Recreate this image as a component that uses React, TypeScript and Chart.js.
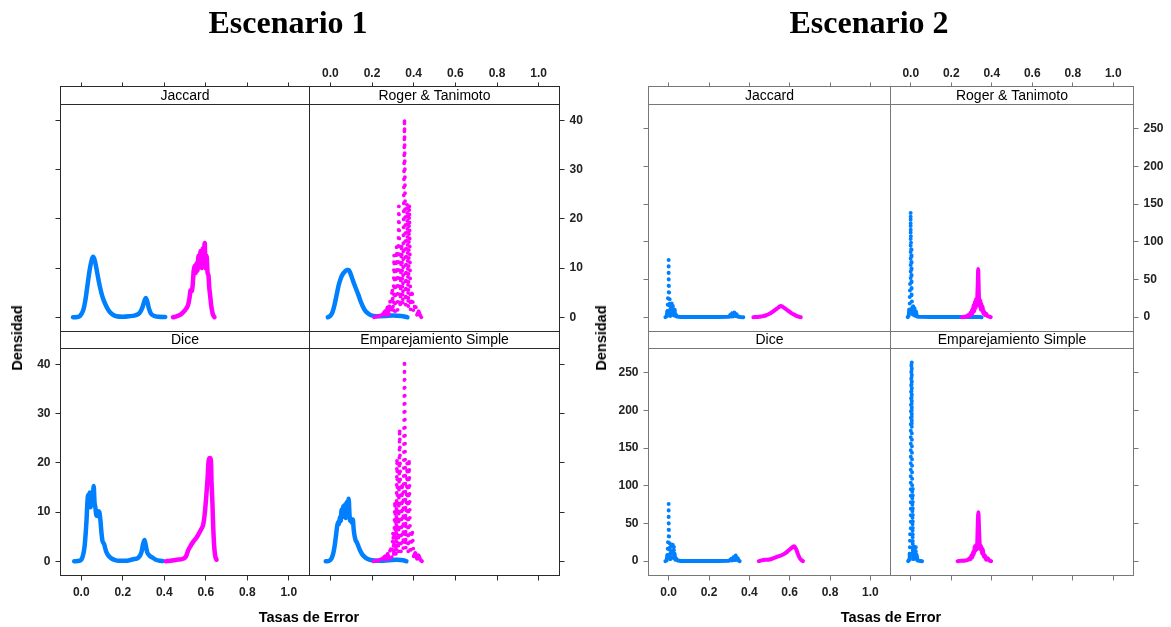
import { useEffect, useRef } from 'react';
import { Chart, registerables } from 'chart.js';

Chart.register(...registerables);

type Pt = [number, number];

// ---------- text & ticks ----------
const FIG_TITLES = ['Escenario 1', 'Escenario 2'];
const PANEL_NAMES = ['Jaccard', 'Roger & Tanimoto', 'Dice', 'Emparejamiento Simple'];
const X_LABEL = 'Tasas de Error';
const Y_LABEL = 'Densidad';
const X_TICKS = [0, 0.2, 0.4, 0.6, 0.8, 1.0];
const E1_Y_TICKS = [0, 10, 20, 30, 40];
const E2_Y_TICKS = [0, 50, 100, 150, 200, 250];

// ---------- Escenario 1 densities ----------
const e1JaccardBlue: Pt[] = [[-0.04,0],[-0.02,0.05],[-0.005,0.3],[0.01,1.5],[0.02,3.5],[0.03,6.5],[0.04,9.5],[0.05,11.6],[0.057,12.3],[0.065,11.6],[0.075,9.5],[0.085,7.2],[0.095,5.3],[0.105,3.8],[0.12,2.3],[0.135,1.2],[0.15,0.6],[0.17,0.2],[0.2,0.1],[0.23,0.2],[0.26,0.4],[0.28,0.8],[0.295,2],[0.305,3.4],[0.311,3.9],[0.318,3.2],[0.326,1.8],[0.335,0.8],[0.35,0.3],[0.375,0.1],[0.405,0.05]];
const e1JaccardMagenta: Pt[] = [[0.442,0],[0.46,0.2],[0.48,0.6],[0.495,1.2],[0.505,1.7],[0.515,2.5],[0.522,4],[0.527,5.5],[0.532,5.3],[0.537,6.5],[0.542,9.5],[0.547,10.5],[0.551,9],[0.556,11],[0.56,9.5],[0.565,12.5],[0.57,10.5],[0.575,13.5],[0.58,10],[0.585,14],[0.589,12],[0.595,15.1],[0.599,10],[0.604,12.5],[0.609,9],[0.613,8.5],[0.617,6],[0.621,4.5],[0.626,2.5],[0.633,0.8],[0.642,0]];
const e1RogerBlue: Pt[] = [[-0.012,0],[0.0,0.3],[0.01,1],[0.02,2.5],[0.03,4.5],[0.04,6.5],[0.05,7.9],[0.06,8.8],[0.07,9.3],[0.08,9.6],[0.088,9.6],[0.095,9.1],[0.105,7.9],[0.115,6.7],[0.125,5.6],[0.135,4.5],[0.145,3.3],[0.155,2.3],[0.165,1.5],[0.18,0.8],[0.195,0.4],[0.22,0.2],[0.26,0.25],[0.3,0.35],[0.34,0.25],[0.37,0]];
const e1RogerMagenta: Pt[] = [[0.21,0],[0.23,0.2],[0.25,0.5],[0.262,1.2],[0.268,0.5],[0.274,2],[0.28,0.6],[0.286,3.5],[0.291,0.8],[0.297,6],[0.302,1],[0.306,12.7],[0.311,1.2],[0.318,14.4],[0.323,1.5],[0.329,22.6],[0.335,2],[0.342,15],[0.348,2.5],[0.356,40.5],[0.362,2.5],[0.368,23.3],[0.374,2],[0.379,23],[0.385,1.5],[0.392,5.6],[0.399,1],[0.408,2.9],[0.416,0.5],[0.424,1.2],[0.432,0.3],[0.437,0]];
const e1DiceBlue: Pt[] = [[-0.034,0],[-0.01,0.1],[0.0,0.3],[0.01,1.5],[0.016,3],[0.021,5.5],[0.025,8],[0.029,11.5],[0.033,13.5],[0.037,12],[0.041,14],[0.045,11],[0.05,13.5],[0.054,12],[0.06,15.3],[0.064,12],[0.068,11],[0.072,9.5],[0.077,9.2],[0.082,10.2],[0.087,10],[0.092,8.5],[0.097,6],[0.102,4.2],[0.11,3.5],[0.12,2],[0.13,1.2],[0.145,0.6],[0.16,0.3],[0.18,0.1],[0.22,0.1],[0.25,0.4],[0.275,0.7],[0.29,1.8],[0.298,3.5],[0.305,4.3],[0.311,3.2],[0.318,1.8],[0.33,1.1],[0.345,0.7],[0.36,0.3],[0.38,0.1],[0.393,0.05]];
const e1DiceMagenta: Pt[] = [[0.408,0],[0.43,0.1],[0.46,0.3],[0.49,0.5],[0.505,1],[0.515,2.2],[0.525,3],[0.54,4],[0.555,4.8],[0.565,5.5],[0.578,6.5],[0.588,7.5],[0.596,10],[0.603,13.5],[0.609,17],[0.614,20.5],[0.62,21],[0.625,20.5],[0.628,16],[0.632,12],[0.636,7],[0.64,3.5],[0.645,1.2],[0.652,0.3]];
const e1SimpleBlue: Pt[] = [[-0.022,0],[-0.005,0.1],[0.005,0.5],[0.015,1.8],[0.022,3.5],[0.028,5.5],[0.033,7.2],[0.038,8],[0.042,7.6],[0.046,9],[0.05,8.2],[0.054,10.5],[0.058,9],[0.062,11.2],[0.066,9.5],[0.07,11.5],[0.074,8.8],[0.078,12],[0.082,10],[0.088,12.7],[0.092,9.5],[0.096,8.2],[0.1,8.6],[0.104,7.8],[0.108,8.5],[0.112,6.5],[0.117,5],[0.122,4.2],[0.128,3.8],[0.135,3],[0.143,2.2],[0.152,1.5],[0.162,1],[0.177,0.5],[0.2,0.2],[0.24,0.1],[0.28,0.2],[0.32,0.3],[0.35,0.2],[0.365,0]];
const e1SimpleMagenta: Pt[] = [[0.207,0],[0.23,0.2],[0.25,0.5],[0.262,1],[0.268,0.4],[0.275,1.5],[0.281,0.5],[0.289,3.1],[0.295,0.8],[0.301,6],[0.305,1],[0.31,12.3],[0.315,1.2],[0.32,21],[0.326,1.8],[0.333,27],[0.339,2],[0.345,16],[0.35,2.5],[0.356,41],[0.362,2.5],[0.369,20],[0.374,2],[0.378,20.9],[0.384,1.5],[0.393,6.5],[0.4,1],[0.408,1.7],[0.416,0.5],[0.424,1.2],[0.432,0.3],[0.44,0]];

// ---------- Escenario 2 densities ----------
const e2JaccardBlue: Pt[] = [[-0.016,0],[-0.01,1],[-0.006,8],[-0.003,30],[-0.001,55],[0.0,76],[0.001,55],[0.003,25],[0.005,8],[0.008,2],[0.01,15],[0.012,3],[0.015,19],[0.018,4],[0.021,17],[0.024,3],[0.027,10],[0.03,2],[0.034,4],[0.04,0.8],[0.06,0.3],[0.15,0.3],[0.25,0.3],[0.3,0.5],[0.306,3],[0.31,1],[0.315,5],[0.32,1],[0.326,6],[0.331,1.5],[0.336,4],[0.342,0.8],[0.355,0.3],[0.37,0]];
const e2JaccardMagenta: Pt[] = [[0.42,0],[0.44,0.3],[0.46,1],[0.48,2.2],[0.5,4.5],[0.515,7],[0.53,10],[0.545,13],[0.556,14.8],[0.565,13.8],[0.58,11],[0.595,8],[0.61,5],[0.625,3],[0.64,1],[0.655,0]];
const e2RogerBlue: Pt[] = [[-0.015,0],[-0.01,2],[-0.007,10],[-0.005,25],[-0.003,50],[-0.002,80],[-0.001,110],[0.0,140],[0.001,120],[0.002,90],[0.003,60],[0.005,30],[0.007,12],[0.009,4],[0.012,14],[0.015,3],[0.018,12],[0.021,2],[0.025,8],[0.03,1],[0.04,0.5],[0.1,0.3],[0.2,0.3],[0.3,0.3],[0.34,0.3],[0.35,0]];
const e2RogerMagenta: Pt[] = [[0.253,0],[0.268,0.5],[0.278,1.5],[0.285,3],[0.29,1.5],[0.295,6],[0.299,3],[0.303,10],[0.306,5],[0.31,16],[0.313,8],[0.317,20],[0.32,12],[0.323,24],[0.326,15],[0.329,30],[0.331,45],[0.333,64],[0.335,45],[0.337,25],[0.34,15],[0.343,22],[0.346,10],[0.349,18],[0.352,8],[0.355,14],[0.358,5],[0.362,8],[0.366,3],[0.372,5],[0.378,1.5],[0.385,1],[0.395,0]];
const e2DiceBlue: Pt[] = [[-0.016,0],[-0.01,1],[-0.006,8],[-0.003,30],[-0.001,55],[0.0,76],[0.001,55],[0.003,25],[0.005,8],[0.008,3],[0.011,20],[0.014,4],[0.017,22],[0.02,5],[0.023,21],[0.026,4],[0.029,10],[0.033,2],[0.038,3],[0.045,0.8],[0.06,0.3],[0.15,0.3],[0.25,0.3],[0.3,0.6],[0.31,3],[0.315,1],[0.322,5],[0.327,1.5],[0.332,7.5],[0.337,2],[0.342,4],[0.348,0.5],[0.352,0]];
const e2DiceMagenta: Pt[] = [[0.447,0],[0.46,1],[0.48,1.8],[0.5,2.2],[0.52,4],[0.54,6],[0.56,7.8],[0.575,10],[0.59,13],[0.605,16.5],[0.622,19.8],[0.632,16],[0.64,10],[0.648,5],[0.656,2],[0.666,0]];
const e2SimpleBlue: Pt[] = [[-0.013,0],[-0.008,2],[-0.005,10],[-0.003,40],[-0.001,100],[0.001,180],[0.003,264],[0.005,180],[0.007,100],[0.009,40],[0.011,12],[0.013,3],[0.016,22],[0.019,4],[0.022,20],[0.025,3],[0.029,8],[0.033,1],[0.04,0.5],[0.05,0.3],[0.056,0]];
const e2SimpleMagenta: Pt[] = [[0.231,0],[0.25,0.5],[0.27,1],[0.284,2],[0.29,4],[0.295,2.5],[0.3,8],[0.304,5],[0.308,12],[0.312,9],[0.316,20],[0.32,14],[0.324,22],[0.327,16],[0.329,30],[0.331,50],[0.334,65],[0.337,45],[0.34,25],[0.344,16],[0.348,20],[0.352,10],[0.356,16],[0.36,6],[0.366,8],[0.372,2],[0.38,4],[0.387,1],[0.397,0]];

// ---------- layout / style ----------
const W = 1171;
const H = 627;
const BLUE = '#0080ff';
const MAGENTA = '#ff00ff';
const AXW = 45;
const AXH_TOP = 40;
const AXH_BOT = 30;
const TICK_FONT = { family: '"Liberation Sans", Arial, sans-serif', size: 12, weight: 'bold' as const };

const FIGS = [
  { L: 60.5, M: 309.5, R: 559.5, yMin: -2.9, yMax: 43.3, yTicks: E1_Y_TICKS, line: '#2a2a2a', gap: 8, width: 4.5, dotWidth: 3.8, cx: 288, xlabX: 309, ylabX: 17 },
  { L: 648.5, M: 890.5, R: 1133.5, yMin: -19, yMax: 282, yTicks: E2_Y_TICKS, line: '#777', gap: 6.5, width: 4, dotWidth: 4, cx: 869, xlabX: 891, ylabX: 601 },
];
const ROWS = [
  { stripTop: 86.5, top: 104.5, bottom: 331.5 },
  { stripTop: 331.5, top: 348.5, bottom: 575.5 },
];

type Panel = { fig: number; row: number; col: number; name: string; blue: Pt[]; magenta: Pt[]; spikyBlue: boolean; spikyMag: boolean };

const PANELS: Panel[] = [
  { fig: 0, row: 0, col: 0, name: PANEL_NAMES[0], blue: e1JaccardBlue, magenta: e1JaccardMagenta, spikyBlue: false, spikyMag: false },
  { fig: 0, row: 0, col: 1, name: PANEL_NAMES[1], blue: e1RogerBlue, magenta: e1RogerMagenta, spikyBlue: false, spikyMag: true },
  { fig: 0, row: 1, col: 0, name: PANEL_NAMES[2], blue: e1DiceBlue, magenta: e1DiceMagenta, spikyBlue: false, spikyMag: false },
  { fig: 0, row: 1, col: 1, name: PANEL_NAMES[3], blue: e1SimpleBlue, magenta: e1SimpleMagenta, spikyBlue: false, spikyMag: true },
  { fig: 1, row: 0, col: 0, name: PANEL_NAMES[0], blue: e2JaccardBlue, magenta: e2JaccardMagenta, spikyBlue: true, spikyMag: false },
  { fig: 1, row: 0, col: 1, name: PANEL_NAMES[1], blue: e2RogerBlue, magenta: e2RogerMagenta, spikyBlue: true, spikyMag: false },
  { fig: 1, row: 1, col: 0, name: PANEL_NAMES[2], blue: e2DiceBlue, magenta: e2DiceMagenta, spikyBlue: true, spikyMag: false },
  { fig: 1, row: 1, col: 1, name: PANEL_NAMES[3], blue: e2SimpleBlue, magenta: e2SimpleMagenta, spikyBlue: true, spikyMag: false },
];

const panelDeco = {
  id: 'panelDeco',
  afterDraw(chart: any, _args: any, opts: any) {
    const { ctx, chartArea: a } = chart;
    ctx.save();
    ctx.fillStyle = '#ffffff';
    ctx.fillRect(a.left, opts.stripTop, a.right - a.left, a.top - opts.stripTop);
    ctx.strokeStyle = opts.line;
    ctx.lineWidth = 1;
    ctx.strokeRect(a.left, opts.stripTop, a.right - a.left, a.bottom - opts.stripTop);
    ctx.beginPath();
    ctx.moveTo(a.left, a.top);
    ctx.lineTo(a.right, a.top);
    ctx.stroke();
    ctx.fillStyle = '#000';
    ctx.font = '14px "Liberation Sans", Arial, sans-serif';
    ctx.textAlign = 'center';
    ctx.textBaseline = 'middle';
    ctx.fillText(opts.name, (a.left + a.right) / 2, (opts.stripTop + a.top) / 2 + 0.5);
    ctx.restore();
  },
};

function makeDataset(pts: Pt[], color: string, spiky: boolean, f: typeof FIGS[number]) {
  return {
    data: pts.map(([x, y]) => ({ x, y })),
    borderColor: color,
    backgroundColor: color,
    borderWidth: spiky ? f.dotWidth : f.width,
    pointRadius: 0,
    showLine: true,
    fill: false,
    borderCapStyle: 'round' as const,
    borderJoinStyle: 'round' as const,
    tension: 0,
    cubicInterpolationMode: spiky ? ('default' as const) : ('monotone' as const),
    segment: spiky
      ? {
          borderDash: (c: any) => {
            const dx = Math.abs(c.p1.x - c.p0.x);
            const dy = Math.abs(c.p1.y - c.p0.y);
            return dy > 8 && dy > 2 * dx ? [0, f.gap] : undefined;
          },
        }
      : undefined,
  };
}

function buildConfig(p: Panel): any {
  const f = FIGS[p.fig];
  const r = ROWS[p.row];
  const left = p.col === 0 ? f.L : f.M;
  const right = p.col === 0 ? f.M : f.R;
  const showLabels = (p.row === 0 && p.col === 1) || (p.row === 1 && p.col === 0);
  const padding = {
    left: p.col === 0 ? left - AXW : left,
    right: p.col === 1 ? W - right - AXW : W - right,
    top: p.row === 0 ? r.top - AXH_TOP : r.top,
    bottom: p.row === 1 ? H - r.bottom - AXH_BOT : H - r.bottom,
  };
  return {
    type: 'scatter',
    data: {
      datasets: [
        makeDataset(p.magenta, MAGENTA, p.spikyMag, f),
        makeDataset(p.blue, BLUE, p.spikyBlue, f),
      ],
    },
    options: {
      animation: false,
      responsive: false,
      events: [],
      layout: { padding, autoPadding: false },
      plugins: {
        legend: { display: false },
        tooltip: { enabled: false },
        title: { display: false },
        panelDeco: { stripTop: r.stripTop, name: p.name, line: f.line },
      },
      scales: {
        x: {
          type: 'linear',
          position: p.row === 0 ? 'top' : 'bottom',
          min: -0.1,
          max: 1.1,
          bounds: 'data',
          afterBuildTicks: (s: any) => {
            s.ticks = X_TICKS.map((v) => ({ value: v }));
          },
          afterFit: (s: any) => {
            s.height = p.row === 0 ? AXH_TOP : AXH_BOT;
          },
          grid: {
            display: true,
            drawOnChartArea: false,
            drawTicks: true,
            tickLength: p.row === 0 ? r.top - r.stripTop + 4 : 5,
            tickColor: f.line,
            color: f.line,
          },
          border: { display: false },
          ticks: {
            autoSkip: false,
            maxRotation: 0,
            minRotation: 0,
            padding: p.row === 0 ? 1.5 : 5,
            color: '#222',
            font: TICK_FONT,
            callback: (v: any) => (showLabels ? Number(v).toFixed(1) : ''),
          },
        },
        y: {
          type: 'linear',
          position: p.col === 0 ? 'left' : 'right',
          min: f.yMin,
          max: f.yMax,
          bounds: 'data',
          afterBuildTicks: (s: any) => {
            s.ticks = f.yTicks.map((v) => ({ value: v }));
          },
          afterFit: (s: any) => {
            s.width = AXW;
          },
          grid: {
            display: true,
            drawOnChartArea: false,
            drawTicks: true,
            tickLength: 5,
            tickColor: f.line,
            color: f.line,
          },
          border: { display: false },
          ticks: {
            autoSkip: false,
            padding: 5,
            color: '#222',
            font: TICK_FONT,
            callback: (v: any) => (showLabels ? String(v) : ''),
          },
        },
      },
    },
    plugins: [panelDeco],
  };
}

const centered = (x: number, y: number, extra: string = ''): any => ({
  position: 'absolute',
  left: x,
  top: y,
  transform: `translate(-50%, -50%) ${extra}`,
  whiteSpace: 'nowrap',
  color: '#000',
});

export default function App() {
  const refs = useRef<(HTMLCanvasElement | null)[]>([]);

  useEffect(() => {
    const charts = PANELS.map((p, i) => new Chart(refs.current[i] as HTMLCanvasElement, buildConfig(p)));
    return () => charts.forEach((c) => c.destroy());
  }, []);

  return (
    <div style={{ position: 'absolute', left: 0, top: 0, width: W, height: H, background: '#fff', overflow: 'hidden' }}>
      {PANELS.map((_, i) => (
        <canvas
          key={i}
          ref={(el) => {
            refs.current[i] = el;
          }}
          width={W}
          height={H}
          style={{ position: 'absolute', left: 0, top: 0, width: W, height: H }}
        />
      ))}
      {FIGS.map((f, i) => (
        <div key={'t' + i}>
          <div style={{ ...centered(f.cx, 22), font: 'bold 32px "Liberation Serif", "Times New Roman", serif' }}>{FIG_TITLES[i]}</div>
          <div style={{ ...centered(f.xlabX, 617), font: 'bold 14.5px "Liberation Sans", Arial, sans-serif' }}>{X_LABEL}</div>
          <div style={{ ...centered(f.ylabX, 338, 'rotate(-90deg)'), font: 'bold 14.5px "Liberation Sans", Arial, sans-serif' }}>{Y_LABEL}</div>
        </div>
      ))}
    </div>
  );
}
